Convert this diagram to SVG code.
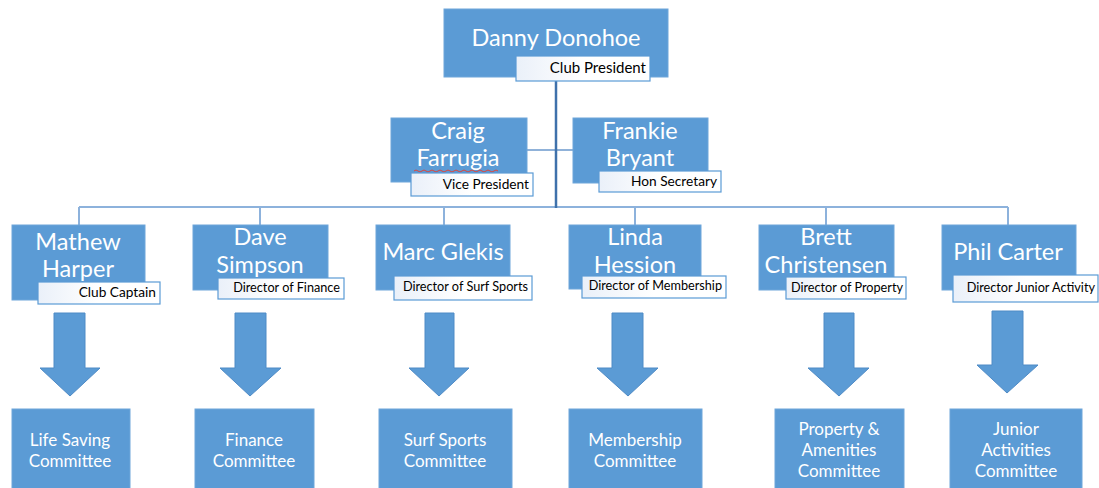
<svg xmlns="http://www.w3.org/2000/svg" width="1099" height="488" viewBox="0 0 1099 488">
<defs>
<linearGradient id="lg" x1="0" y1="0" x2="1" y2="0">
<stop offset="0" stop-color="#eaf0f9"/>
<stop offset="0.5" stop-color="#ffffff"/>
<stop offset="1" stop-color="#ffffff"/>
</linearGradient>
</defs>
<style>
.box{fill:#5b9bd5;stroke:#6fa6da;stroke-width:1}
.lbl{fill:url(#lg);stroke:#5b9bd5;stroke-width:1.2}
.name{font-family:Lato,"Open Sans",sans-serif;font-size:23.5px;fill:#ffffff;text-anchor:middle}
.role{font-family:Lato,"Open Sans",sans-serif;font-size:12.7px;fill:#000000;text-anchor:end}
.r2{font-size:13.7px}
.r3{font-size:15px}
.com{font-family:Lato,"Open Sans",sans-serif;font-size:17px;fill:#ffffff;text-anchor:middle}
.arrow{fill:#5b9bd5;stroke:#4f8bc6;stroke-width:1}
.ln{stroke:#8db2dc;stroke-width:2;fill:none}
.main{stroke:#3f71ab;stroke-width:2.5;fill:none}
.side{stroke:#6b98cc;stroke-width:1.5;fill:none}
</style>
<rect width="1099" height="488" fill="#ffffff"/>
<g id="connectors">
<path class="ln" d="M79 207 H1008 M79 207 V225 M260 207 V225 M444 207 V225 M635 207 V225 M826 207 V225 M1008 207 V225"/>
<path class="side" d="M527 150 H573"/>
<path class="main" d="M556 77 V208"/>
</g>
<g id="danny">
<rect class="box" x="444" y="9" width="224" height="68"/>
<text class="name" x="556" y="46">Danny Donohoe</text>
<rect class="lbl" x="516" y="56" width="134" height="25"/>
<text class="role r3" x="646" y="73">Club President</text>
</g>
<g id="craig">
<rect class="box" x="391" y="118" width="136" height="64"/>
<text class="name" x="458" y="139">Craig</text>
<text class="name" x="458" y="166">Farrugia</text>
<path d="M414 171 q2 -2 4 0 t4 0 t4 0 t4 0 t4 0 t4 0 t4 0 t4 0 t4 0 t4 0 t4 0 t4 0 t4 0 t4 0 t4 0 t4 0 t4 0 t4 0 t4 0 t4 0 t4 0" fill="none" stroke="#e0443a" stroke-width="1"/>
<rect class="lbl" x="411" y="173" width="122" height="23"/>
<text class="role r2" x="529" y="189">Vice President</text>
</g>
<g id="frankie">
<rect class="box" x="573" y="118" width="135" height="65"/>
<text class="name" x="640" y="139">Frankie</text>
<text class="name" x="640" y="166">Bryant</text>
<rect class="lbl" x="599" y="171" width="122" height="21"/>
<text class="role r2" x="717" y="186">Hon Secretary</text>
</g>
<g id="mathew">
<rect class="box" x="12" y="225" width="133" height="75"/>
<text class="name" x="78" y="250">Mathew</text>
<text class="name" x="78" y="277">Harper</text>
<rect class="lbl" x="38" y="282" width="122" height="22"/>
<text class="role r2" x="156" y="297">Club Captain</text>
</g>
<g id="dave">
<rect class="box" x="193" y="225" width="135" height="65"/>
<text class="name" x="260" y="245">Dave</text>
<text class="name" x="260" y="273">Simpson</text>
<rect class="lbl" x="218" y="278" width="126" height="21"/>
<text class="role" x="340" y="292">Director of Finance</text>
</g>
<g id="marc">
<rect class="box" x="376" y="225" width="134" height="65"/>
<text class="name" x="443" y="260">Marc Glekis</text>
<rect class="lbl" x="394" y="276" width="138" height="24"/>
<text class="role" x="528" y="291">Director of Surf Sports</text>
</g>
<g id="linda">
<rect class="box" x="569" y="225" width="132" height="64"/>
<text class="name" x="635" y="245">Linda</text>
<text class="name" x="635" y="273">Hession</text>
<rect class="lbl" x="582" y="276" width="144" height="22"/>
<text class="role" x="722" y="290">Director of Membership</text>
</g>
<g id="brett">
<rect class="box" x="759" y="225" width="135" height="65"/>
<text class="name" x="826" y="245">Brett</text>
<text class="name" x="826" y="273">Christensen</text>
<rect class="lbl" x="786" y="277" width="120" height="22"/>
<text class="role" x="903" y="292">Director of Property</text>
</g>
<g id="phil">
<rect class="box" x="942" y="225" width="134" height="65"/>
<text class="name" x="1008" y="260">Phil Carter</text>
<rect class="lbl" x="953" y="275" width="145" height="27"/>
<text class="role" x="1095" y="292">Director Junior Activity</text>
</g>
<g id="arrows">
<path class="arrow" d="M54 313 H85 V368 H100 L70 396 L40 368 H54 Z"/>
<path class="arrow" d="M235 313 H266 V368 H281 L250 396 L220 368 H235 Z"/>
<path class="arrow" d="M425 313 H454 V368 H469 L439 396 L409 368 H425 Z"/>
<path class="arrow" d="M612 313 H643 V368 H658 L628 396 L597 368 H612 Z"/>
<path class="arrow" d="M824 313 H854 V368 H869 L839 396 L808 368 H824 Z"/>
<path class="arrow" d="M992 311 H1023 V365 H1038 L1007 393 L977 365 H992 Z"/>
</g>
<g id="c1">
<rect class="box" x="12" y="409" width="118" height="82"/>
<text class="com" x="70" y="446">Life Saving</text>
<text class="com" x="70" y="467">Committee</text>
</g>
<g id="c2">
<rect class="box" x="195" y="409" width="119" height="82"/>
<text class="com" x="254" y="446">Finance</text>
<text class="com" x="254" y="467">Committee</text>
</g>
<g id="c3">
<rect class="box" x="379" y="409" width="133" height="82"/>
<text class="com" x="445" y="446">Surf Sports</text>
<text class="com" x="445" y="467">Committee</text>
</g>
<g id="c4">
<rect class="box" x="569" y="409" width="133" height="82"/>
<text class="com" x="635" y="446">Membership</text>
<text class="com" x="635" y="467">Committee</text>
</g>
<g id="c5">
<rect class="box" x="775" y="409" width="129" height="82"/>
<text class="com" x="839" y="435">Property &amp;</text>
<text class="com" x="839" y="456">Amenities</text>
<text class="com" x="839" y="477">Committee</text>
</g>
<g id="c6">
<rect class="box" x="950" y="409" width="132" height="82"/>
<text class="com" x="1016" y="435">Junior</text>
<text class="com" x="1016" y="456">Activities</text>
<text class="com" x="1016" y="477">Committee</text>
</g>
</svg>
